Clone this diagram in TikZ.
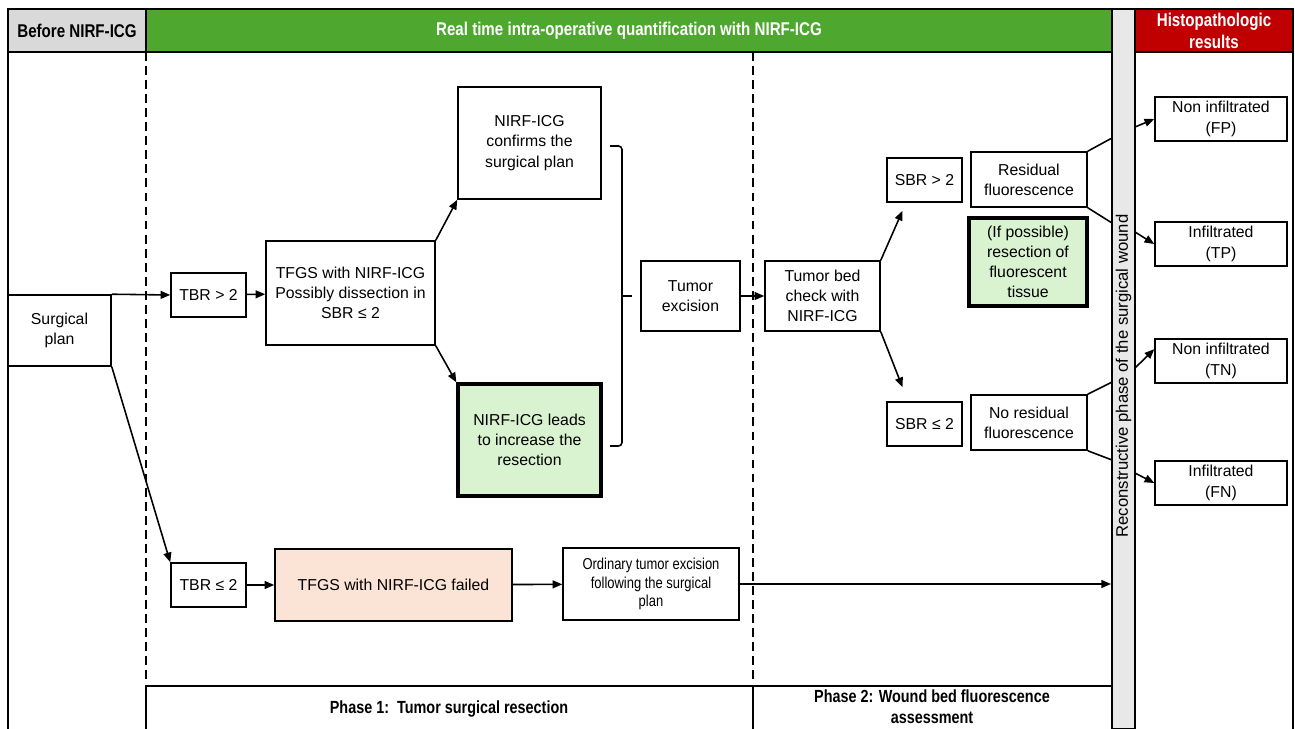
\documentclass[tikz,border=0pt]{standalone}
\usepackage{fontspec}
\setmainfont{Liberation Sans}
\newfontfamily\narrowfont[FakeStretch=0.82]{Liberation Sans}
\usetikzlibrary{arrows.meta, positioning, calc}

\definecolor{hdrgray}{HTML}{D9D9D9}
\definecolor{hdrgreen}{HTML}{4EA72E}
\definecolor{hdrred}{HTML}{C00000}
\definecolor{bargray}{HTML}{E8E8E8}
\definecolor{okgreen}{HTML}{D9F2D0}
\definecolor{failpink}{HTML}{FBE3D6}

\begin{document}
\begin{tikzpicture}[
  x = 0.02cm, y = -0.02cm,
  box/.style    = {draw, rectangle, line width=0.9pt,
                   align=center, inner sep=2pt,
                   font=\fontsize{9}{11.5}\selectfont},
  keybox/.style = {box, line width=1.9pt, fill=okgreen},
  failbox/.style= {box, fill=failpink},
  hdr/.style    = {draw, rectangle, line width=1.1pt, inner sep=0pt,
                   align=center, minimum height=0.86cm,
                   font=\narrowfont\bfseries\fontsize{10.5}{12.5}\selectfont},
  phase/.style  = {align=center,
                   font=\narrowfont\bfseries\fontsize{10}{12}\selectfont},
  arr/.style    = {-{Triangle[length=5.5pt,width=4.5pt]}, line width=0.9pt},
  lnk/.style    = {line width=0.9pt},
  sep/.style    = {line width=0.9pt, dash pattern=on 5pt off 3pt}
]
\useasboundingbox (0,0) rectangle (1295,729);

%── Bandeau du haut ───────────────────────────────────────────────────────
\node[hdr, fill=hdrgray, minimum width=2.76cm] (before) at (77,30.5)
  {Before NIRF-ICG};
\node[hdr, fill=hdrgreen, text=white, minimum width=19.32cm] (realtime) at (629,30.5)
  {Real time intra-operative quantification with NIRF-ICG};
\node[hdr, fill=hdrred, text=white, minimum width=3.16cm] (histo) at (1214,30.5)
  {Histopathologic\\results};

%── Barre de reconstruction ───────────────────────────────────────────────
\node[draw, line width=1.1pt, fill=bargray, minimum width=0.46cm,
      minimum height=14.4cm, inner sep=0pt] (bar) at (1123.5,369) {};
\node[rotate=90, font=\fontsize{9.5}{11}\selectfont] (barlabel) at (1123.5,376)
  {Reconstructive phase of the surgical wound};

%── Cadre et séparateurs ─────────────────────────────────────────────────
\draw[line width=1.1pt] (8,9) -- (8,729);
\draw[line width=1.1pt] (1293,9) -- (1293,729);
\draw[sep] (146,52) -- (146,686);
\draw[sep] (753,52) -- (753,686);
\draw[line width=1.1pt] (146,729) -- (146,686) -- (1112,686);
\draw[line width=1.1pt] (753,686) -- (753,729);

\node[phase] (phase1) at (449,709) {Phase 1:\ \ Tumor surgical resection};
\node[phase] (phase2) at (932,707) {Phase 2: Wound bed fluorescence\\assessment};

%── Phase 1 ───────────────────────────────────────────────────────────────
\node[box, minimum width=2.06cm, minimum height=1.42cm] (plan) at (59.5,330.5)
  {Surgical\\plan};

\node[box, minimum width=1.5cm, minimum height=0.88cm] (tbrhi) at (208.5,295)
  {TBR > 2};
\node[box, minimum width=3.38cm, minimum height=2.08cm] (tfgs) at (350.5,293)
  {TFGS with NIRF-ICG\\Possibly dissection in\\SBR ≤ 2};
\node[box, minimum width=2.86cm, minimum height=2.24cm] (confirm) at (529.5,143)
  {NIRF-ICG\\confirms the\\surgical plan};
\node[keybox, minimum width=2.86cm, minimum height=2.24cm] (increase) at (529.5,440)
  {NIRF-ICG leads\\to increase the\\resection};
\node[box, minimum width=1.98cm, minimum height=1.4cm] (excision) at (690.5,296)
  {Tumor\\excision};

\node[box, minimum width=1.5cm, minimum height=0.88cm] (tbrlo) at (208.5,585)
  {TBR ≤ 2};
\node[failbox, minimum width=4.74cm, minimum height=1.44cm] (failed) at (393.5,585)
  {TFGS with NIRF-ICG failed};
\node[box, minimum width=3.52cm, minimum height=1.44cm,
      font=\narrowfont\fontsize{9}{10.5}\selectfont] (ordinary) at (651,584)
  {Ordinary tumor excision\\following the surgical\\plan};

%── Phase 2 ───────────────────────────────────────────────────────────────
\node[box, minimum width=2.3cm, minimum height=1.4cm] (bedcheck) at (822.5,296)
  {Tumor bed\\check with\\NIRF-ICG};
\node[box, minimum width=1.5cm, minimum height=0.88cm] (sbrhi) at (924.5,180)
  {SBR > 2};
\node[box, minimum width=1.5cm, minimum height=0.88cm] (sbrlo) at (924.5,424)
  {SBR ≤ 2};
\node[box, minimum width=2.32cm, minimum height=1.1cm] (residual) at (1029,179.5)
  {Residual\\fluorescence};
\node[keybox, minimum width=2.36cm, minimum height=1.76cm] (ifposs) at (1028,262)
  {(If possible)\\resection of\\fluorescent\\tissue};
\node[box, minimum width=2.32cm, minimum height=1.1cm] (nores) at (1029,422.5)
  {No residual\\fluorescence};

%── Résultats histologiques ───────────────────────────────────────────────
\node[box, minimum width=2.64cm, minimum height=0.88cm] (fp) at (1221,119)
  {Non infiltrated\\(FP)};
\node[box, minimum width=2.64cm, minimum height=0.88cm] (tp) at (1221,244)
  {Infiltrated\\(TP)};
\node[box, minimum width=2.64cm, minimum height=0.88cm] (tn) at (1221,361)
  {Non infiltrated\\(TN)};
\node[box, minimum width=2.64cm, minimum height=0.88cm] (fn) at (1221,483)
  {Infiltrated\\(FN)};

%── Points sur la barre ──────────────────────────────────────────────────
\coordinate (fpin)  at (1112,138);  \coordinate (fpout) at (1135,127);
\coordinate (tpin)  at (1112,223);  \coordinate (tpout) at (1135,232);
\coordinate (tnin)  at (1112,382);  \coordinate (tnout) at (1135,368);
\coordinate (fnin)  at (1112,460);  \coordinate (fnout) at (1135,473);

%── Flèches ───────────────────────────────────────────────────────────────
\draw[arr] (plan.north east) -- (tbrhi.west);
\draw[arr] (plan.south east) -- (tbrlo.north west);
\draw[arr] (tbrhi) -- (tfgs);
\draw[arr] (tfgs.north east) -- (confirm.south west);
\draw[arr] (tfgs.south east) -- (increase.north west);

% accolade
\draw[lnk, rounded corners=2pt] (610,146) -| (622,446) -- (610,446);
\draw[lnk] (622,296) -- (632,296);

\draw[arr] (excision) -- (bedcheck);
\draw[arr] (bedcheck.north east) -- ($(sbrhi.south)+(-22,8)$);
\draw[arr] (bedcheck.south east) -- ($(sbrlo.north)+(-22,-14)$);

\draw[arr] (tbrlo) -- (failed);
\draw[arr] (failed) -- (ordinary);
\draw[arr] (ordinary.east) -- (ordinary.east -| bar.west);

\draw[lnk] (residual.north east) -- (fpin);
\draw[lnk] (residual.south east) -- (tpin);
\draw[lnk] (nores.north east) -- (tnin);
\draw[lnk] (nores.south east) -- (fnin);
\draw[arr] (fpout) -- (fp.west);
\draw[arr] (tpout) -- (tp.west);
\draw[arr] (tnout) -- (tn.170);
\draw[arr] (fnout) -- (fn.west);

\end{tikzpicture}
\end{document}
